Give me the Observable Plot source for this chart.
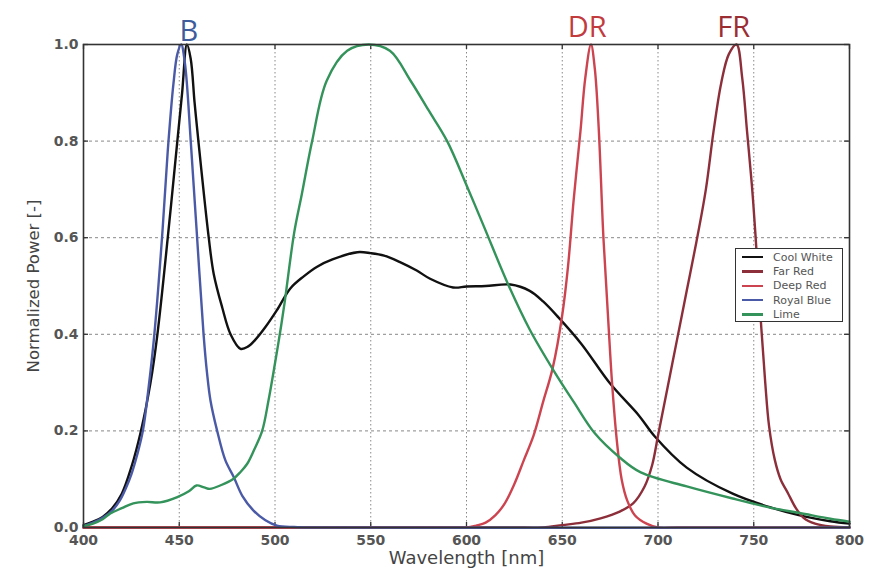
<!DOCTYPE html>
<html>
<head>
<meta charset="utf-8">
<script src="https://cdn.jsdelivr.net/npm/d3@7"></script>
<script src="https://cdn.jsdelivr.net/npm/@observablehq/plot@0.6"></script>
<style>
  html, body { margin: 0; padding: 0; background: #fff; }
  #wrap { position: relative; width: 876px; height: 572px; }
  #legend { position: absolute; left: 735px; top: 248px; width: 106px; height: 72px;
    border: 1.4px solid #333; background: #fff; box-sizing: content-box;
    font-family: "DejaVu Sans", sans-serif; font-size: 11px; color: #555; }
  #legend .row { position: absolute; left: 0; height: 14px; display: flex; align-items: center; white-space: nowrap; }
  #legend .sw { width: 21px; height: 2.5px; margin-left: 6px; margin-right: 10px; }
</style>
</head>
<body>
<div id="wrap"><div id="legend"></div></div>
<script>
// ---------- data ----------
const xTicks = [400, 450, 500, 550, 600, 650, 700, 750, 800];
const yTicks = [0, 0.2, 0.4, 0.6, 0.8, 1.0];
const xLabel = "Wavelength [nm]";
const yLabel = "Normalized Power [-]";

const seriesNames = ["Cool White", "Far Red", "Deep Red", "Royal Blue", "Lime"];
const seriesColors = ["#111111", "#8c2f3a", "#cc4450", "#4a5aa6", "#33935a"];

const coolWhiteNm = [400,405,410,415,420,425,430,435,438.6,444,449,451.5,454,456,458,460,465.4,468,472.4,476.8,482,486,490,495,501,508,515,522,530,543,550,557,565,574,581,593,600,610,623,633,640,648,660,675,690,698,715,739,760,774,790,800];
const coolWhiteVal = [0.005,0.012,0.022,0.04,0.07,0.125,0.2,0.3,0.4,0.6,0.8,0.9,1.0,0.97,0.88,0.8,0.6,0.525,0.456,0.4,0.37,0.375,0.39,0.415,0.45,0.495,0.52,0.54,0.555,0.57,0.568,0.563,0.55,0.532,0.515,0.497,0.499,0.5,0.503,0.49,0.468,0.435,0.38,0.298,0.232,0.19,0.124,0.07,0.04,0.025,0.013,0.008];

const royalBlueNm = [400,405,410,415,419,422,425,428,431,434,437,441,444,447,449,451,453,456,459,462.7,464.5,466.3,469.8,474,478.5,483,488.8,495,501,510,520,800];
const royalBlueVal = [0.003,0.01,0.02,0.035,0.056,0.08,0.11,0.15,0.2,0.29,0.4,0.6,0.78,0.92,0.98,1.0,0.96,0.8,0.62,0.4,0.32,0.263,0.2,0.14,0.104,0.065,0.035,0.015,0.004,0.001,0,0];

const limeNm = [400,405,410,414,420,426,433,440,449,455,459,463,466,472,478,482,485.5,489,493.3,496.6,500,502.5,505,510,514,519.4,527,537.7,549,560,570.8,580,589.9,600.4,608.9,622,633,645.5,656,667,680,691,715,739,760,774,790,800];
const limeVal = [0.003,0.008,0.017,0.029,0.04,0.05,0.053,0.052,0.063,0.075,0.087,0.083,0.08,0.088,0.1,0.115,0.132,0.16,0.2,0.263,0.34,0.4,0.465,0.61,0.69,0.8,0.925,0.987,1.0,0.987,0.925,0.865,0.8,0.705,0.625,0.501,0.41,0.325,0.26,0.195,0.145,0.114,0.085,0.06,0.04,0.03,0.018,0.012];

const deepRedNm = [400,590,600,605,610,615,620,625,630,635,640,645,650,653,656,659.5,662,665,667,669,671.5,674,676,678.5,681,684,688,694,700,710,800];
const deepRedVal = [0,0,0,0.004,0.01,0.025,0.05,0.09,0.14,0.19,0.26,0.33,0.44,0.54,0.68,0.82,0.93,1.0,0.95,0.83,0.6,0.43,0.3,0.18,0.1,0.055,0.025,0.008,0,0,0];

const farRedNm = [400,630,640,650,660,670,680,687,693,697,700,705,710,715,720,725,729,733,737,741,744,746.5,749,751,753.5,756,758,761,764,768,772,776,782,790,800];
const farRedVal = [0,0,0,0.005,0.01,0.019,0.033,0.05,0.085,0.13,0.19,0.29,0.39,0.49,0.59,0.7,0.82,0.92,0.98,1.0,0.93,0.82,0.71,0.6,0.44,0.3,0.21,0.14,0.1,0.07,0.04,0.02,0.008,0.002,0];

const peakLabels = ["B", "DR", "FR"];
const peakLabelNm = [455, 663, 739.5];
const peakLabelColors = ["#3d5c9c", "#c23b3e", "#9b2e33"];

// ---------- build ----------
const toRows = (nm, val, name) => nm.map((x, i) => ({x, y: val[i], name}));
const seriesData = [
  toRows(coolWhiteNm, coolWhiteVal, "Cool White"),
  toRows(farRedNm, farRedVal, "Far Red"),
  toRows(deepRedNm, deepRedVal, "Deep Red"),
  toRows(royalBlueNm, royalBlueVal, "Royal Blue"),
  toRows(limeNm, limeVal, "Lime")
];

const W = 876, H = 572, mL = 83, mR = 27, mT = 44, mB = 45;
const plotW = W - mL - mR, plotH = H - mT - mB;
const tickLen = 5;
const axisFont = "DejaVu Sans, sans-serif";

const lineMarks = seriesData.map((rows, i) =>
  Plot.line(rows, {x: "x", y: "y", stroke: seriesColors[i], strokeWidth: 2.4, curve: "catmull-rom"})
);

const chart = Plot.plot({
  width: W, height: H,
  marginLeft: mL, marginRight: mR, marginTop: mT, marginBottom: mB,
  x: {domain: [400, 800]},
  y: {domain: [0, 1]},
  style: {fontFamily: axisFont, background: "transparent", overflow: "visible"},
  marks: [
    Plot.gridX(xTicks, {stroke: "#888", strokeOpacity: 1, strokeWidth: 1, strokeDasharray: "1.5,2.5"}),
    Plot.gridY(yTicks, {stroke: "#888", strokeOpacity: 1, strokeWidth: 1, strokeDasharray: "3,3"}),
    // inward ticks on all four sides
    Plot.tickY(yTicks, {y: d => d, insetRight: plotW - tickLen, stroke: "#333", strokeWidth: 1.3}),
    Plot.tickY(yTicks, {y: d => d, insetLeft: plotW - tickLen, stroke: "#333", strokeWidth: 1.3}),
    Plot.tickX(xTicks, {x: d => d, insetBottom: plotH - tickLen, stroke: "#333", strokeWidth: 1.3}),
    Plot.tickX(xTicks, {x: d => d, insetTop: plotH - tickLen, stroke: "#333", strokeWidth: 1.3}),
    ...lineMarks,
    Plot.frame({stroke: "#333", strokeWidth: 1.6}),
    Plot.axisX(xTicks, {tickSize: 0, tickPadding: 7.5, fontSize: 14, fontWeight: "bold", color: "#555", label: null, tickFormat: d => String(d)}),
    Plot.axisY(yTicks, {tickSize: 0, tickPadding: 5, fontSize: 14, fontWeight: "bold", color: "#555", label: null, tickFormat: d3.format(".1f")}),
    Plot.text([xLabel], {frameAnchor: "bottom", dy: 31, lineAnchor: "middle", textAnchor: "middle", fontSize: 18, fill: "#444", fontFamily: axisFont}),
    Plot.text([yLabel], {frameAnchor: "left", rotate: -90, dx: -50, lineAnchor: "middle", textAnchor: "middle", fontSize: 16.5, fill: "#444", fontFamily: axisFont}),
    Plot.text(peakLabels.slice(0, 1), {x: (d, i) => peakLabelNm[i], y: () => 1, dy: -13, fontSize: 29, fill: (d, i) => peakLabelColors[i], fontFamily: "Open Sans, sans-serif"}),
    Plot.text(peakLabels.slice(1), {x: (d, i) => peakLabelNm[i + 1], y: () => 1, dy: -17, fontSize: 29, fill: (d, i) => peakLabelColors[i + 1], fontFamily: "Open Sans, sans-serif"})
  ]
});

document.getElementById("wrap").prepend(chart);

// legend
const legend = d3.select("#legend");
seriesNames.forEach((name, i) => {
  const row = legend.append("div").attr("class", "row").style("top", (1 + i * 14.4) + "px");
  row.append("div").attr("class", "sw").style("background", seriesColors[i]);
  row.append("span").text(name);
});
</script>
</body>
</html>
